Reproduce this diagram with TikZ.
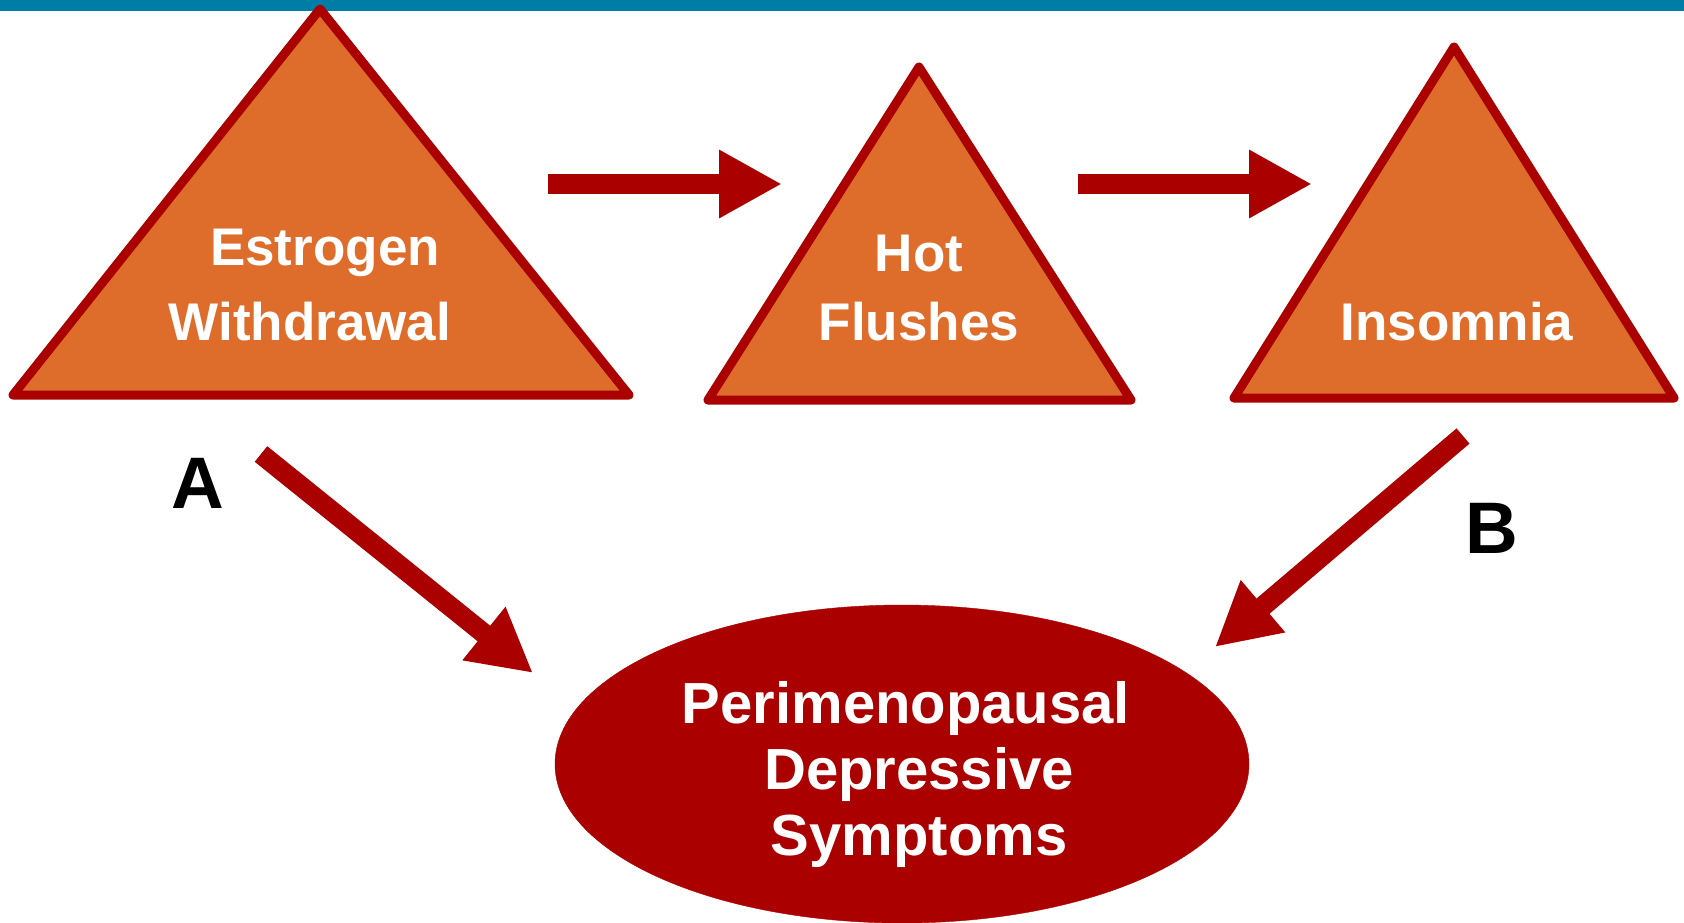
\documentclass[tikz,border=0pt]{standalone}
\usepackage{fontspec}
\setmainfont{Liberation Sans}
\usetikzlibrary{arrows.meta,shapes.geometric}
\definecolor{barblue}{RGB}{0,125,166}
\definecolor{triorange}{RGB}{222,108,42}
\definecolor{darkred}{RGB}{170,0,0}
\tikzset{
  tri/.style={draw=darkred, fill=triorange, line width=9pt, line join=round},
  trilabel/.style={text=white, font=\bfseries\fontsize{53}{60}\selectfont, anchor=base, inner sep=0pt},
  elllabel/.style={text=white, font=\bfseries\fontsize{58}{66}\selectfont, anchor=base, inner sep=0pt},
  letter/.style={text=black, font=\bfseries\fontsize{73}{80}\selectfont, anchor=base, inner sep=0pt},
  bigarrow/.style={draw=darkred, line width=20pt, -{Triangle[length=63pt,width=64pt]}},
}
\begin{document}
\begin{tikzpicture}[x=1pt,y=-1pt]
\useasboundingbox (0,0) rectangle (1684,922);
% top bar
\fill[barblue] (0,0) rectangle (1684,11);
% triangles
\draw[tri] (320,9) -- (629,395) -- (13,395) -- cycle;
\draw[tri] (919,67) -- (1131,400) -- (708,400) -- cycle;
\draw[tri] (1454,47) -- (1674,398) -- (1234,398) -- cycle;
% ellipse
\node[ellipse, draw=darkred, fill=darkred, minimum width=694pt, minimum height=318pt, inner sep=0pt] (dep) at (902,764) {};
% triangle texts
\node[trilabel] (ew1) at (325,265) {Estrogen};
\node[trilabel] (ew2) at (310,340) {Withdrawal};
\node[trilabel] (hf1) at (919,271) {Hot};
\node[trilabel] (hf2) at (919,340) {Flushes};
\node[trilabel] (ins) at (1457,340) {Insomnia};
% ellipse text
\node[elllabel] (pd1) at (906,723) {Perimenopausal};
\node[elllabel] (pd2) at (919,789) {Depressive};
\node[elllabel] (pd3) at (919,855) {Symptoms};
% letters
\node[letter] (la) at (198,508) {A};
\node[letter] (lb) at (1492,553) {B};
% arrow end points
\coordinate (h1s) at (548,184);
\coordinate (h1e) at (782,184);
\coordinate (h2s) at (1078,184);
\coordinate (h2e) at (1312,184);
\coordinate (as) at (261,454);
\coordinate (ae) at (533,673);
\coordinate (bs) at (1463,436);
\coordinate (be) at (1215,647);
\draw[bigarrow] (h1s) -- (h1e);
\draw[bigarrow] (h2s) -- (h2e);
\draw[bigarrow] (as) -- (ae);
\draw[bigarrow] (bs) -- (be);
\end{tikzpicture}
\end{document}
